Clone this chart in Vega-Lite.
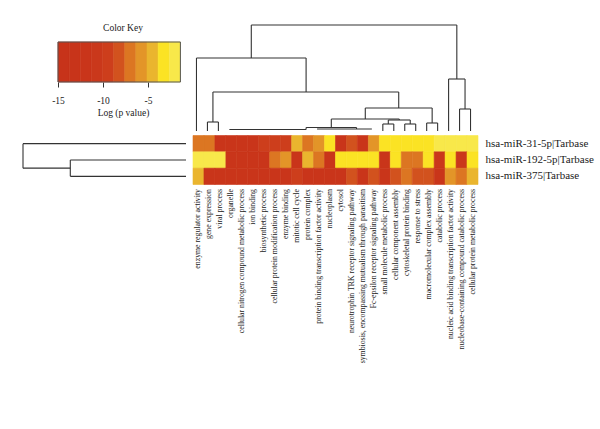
{
  "$schema": "https://vega.github.io/schema/vega-lite/v6.json",
  "padding": {"left": 22, "top": 22, "right": 5, "bottom": 5},
  "background": "white",
  "config": {
    "view": {"stroke": null},
    "font": "Liberation Serif",
    "axis": {"labelFont": "Liberation Serif", "titleFont": "Liberation Serif", "labelColor": "#1a1a1a", "titleColor": "#1a1a1a"},
    "title": {"font": "Liberation Serif"}
  },
  "datasets": {
    "keybins": [
      {"lo": -15, "hi": -13.76, "v": -14.4},
      {"lo": -13.76, "hi": -12.53, "v": -13.1},
      {"lo": -12.53, "hi": -11.29, "v": -11.9},
      {"lo": -11.29, "hi": -10.05, "v": -10.7},
      {"lo": -10.05, "hi": -8.82, "v": -9.4},
      {"lo": -8.82, "hi": -7.58, "v": -8.2},
      {"lo": -7.58, "hi": -6.35, "v": -7.0},
      {"lo": -6.35, "hi": -5.11, "v": -5.7},
      {"lo": -5.11, "hi": -3.87, "v": -4.5},
      {"lo": -3.87, "hi": -2.64, "v": -3.2},
      {"lo": -2.64, "hi": -1.4, "v": -2.0}
    ],
    "keyframe": [{"lo": -15, "hi": -1.4}],
    "coldendro": [
      {"x": 5.5, "x2": 24.25, "y": 106, "y2": 106},
      {"x": 5.5, "x2": 5.5, "y": 73, "y2": 106},
      {"x": 24.25, "x2": 24.25, "y": 52, "y2": 106},
      {"x": 0.5, "x2": 10.5, "y": 73, "y2": 73},
      {"x": 0.5, "x2": 0.5, "y": 0, "y2": 73},
      {"x": 10.5, "x2": 10.5, "y": 39, "y2": 73},
      {"x": 2.0, "x2": 18.95, "y": 39, "y2": 39},
      {"x": 2.0, "x2": 2.0, "y": 9, "y2": 39},
      {"x": 18.95, "x2": 18.95, "y": 23, "y2": 39},
      {"x": 1.5, "x2": 2.5, "y": 9, "y2": 9},
      {"x": 1.5, "x2": 1.5, "y": 0, "y2": 9},
      {"x": 2.5, "x2": 2.5, "y": 0, "y2": 9},
      {"x": 15.9, "x2": 22.0, "y": 23, "y2": 23},
      {"x": 15.9, "x2": 15.9, "y": 12, "y2": 23},
      {"x": 22.0, "x2": 22.0, "y": 8, "y2": 23},
      {"x": 21.5, "x2": 22.5, "y": 8, "y2": 8},
      {"x": 21.5, "x2": 21.5, "y": 0, "y2": 8},
      {"x": 22.5, "x2": 22.5, "y": 0, "y2": 8},
      {"x": 12.8, "x2": 19.0, "y": 12, "y2": 12},
      {"x": 12.8, "x2": 12.8, "y": 3.5, "y2": 12},
      {"x": 19.0, "x2": 19.0, "y": 11, "y2": 12},
      {"x": 18.0, "x2": 20.0, "y": 11, "y2": 11},
      {"x": 18.0, "x2": 18.0, "y": 7, "y2": 11},
      {"x": 20.0, "x2": 20.0, "y": 7, "y2": 11},
      {"x": 17.5, "x2": 18.5, "y": 7, "y2": 7},
      {"x": 17.5, "x2": 17.5, "y": 0, "y2": 7},
      {"x": 18.5, "x2": 18.5, "y": 0, "y2": 7},
      {"x": 19.5, "x2": 20.5, "y": 7, "y2": 7},
      {"x": 19.5, "x2": 19.5, "y": 0, "y2": 7},
      {"x": 20.5, "x2": 20.5, "y": 0, "y2": 7},
      {"x": 10.5, "x2": 15.1, "y": 3.5, "y2": 3.5},
      {"x": 10.5, "x2": 10.5, "y": 1.5, "y2": 3.5},
      {"x": 15.1, "x2": 15.1, "y": 2, "y2": 3.5},
      {"x": 3.5, "x2": 10.5, "y": 1.5, "y2": 1.5},
      {"x": 11.5, "x2": 16.5, "y": 2, "y2": 2},
      {"x": 23.5, "x2": 25.0, "y": 52, "y2": 52},
      {"x": 23.5, "x2": 23.5, "y": 0, "y2": 52},
      {"x": 25.0, "x2": 25.0, "y": 22, "y2": 52},
      {"x": 24.5, "x2": 25.5, "y": 22, "y2": 22},
      {"x": 24.5, "x2": 24.5, "y": 0, "y2": 22},
      {"x": 25.5, "x2": 25.5, "y": 0, "y2": 22}
    ],
    "rowdendro": [
      {"x": 0, "x2": 163, "y": 0.5, "y2": 0.5},
      {"x": 115.7, "x2": 163, "y": 2.0, "y2": 2.0},
      {"x": 163, "x2": 163, "y": 0.5, "y2": 2.0},
      {"x": 115.7, "x2": 115.7, "y": 1.5, "y2": 2.5},
      {"x": 0, "x2": 115.7, "y": 1.5, "y2": 1.5},
      {"x": 0, "x2": 115.7, "y": 2.5, "y2": 2.5}
    ],
    "heat": [
      {"term": "enzyme regulator activity", "mirna": "hsa-miR-31-5p|Tarbase", "logp": -7.0},
      {"term": "gene expression", "mirna": "hsa-miR-31-5p|Tarbase", "logp": -7.0},
      {"term": "viral process", "mirna": "hsa-miR-31-5p|Tarbase", "logp": -12},
      {"term": "organelle", "mirna": "hsa-miR-31-5p|Tarbase", "logp": -12},
      {"term": "cellular nitrogen compound metabolic process", "mirna": "hsa-miR-31-5p|Tarbase", "logp": -12},
      {"term": "ion binding", "mirna": "hsa-miR-31-5p|Tarbase", "logp": -12},
      {"term": "biosynthetic process", "mirna": "hsa-miR-31-5p|Tarbase", "logp": -9.4},
      {"term": "cellular protein modification process", "mirna": "hsa-miR-31-5p|Tarbase", "logp": -9.4},
      {"term": "enzyme binding", "mirna": "hsa-miR-31-5p|Tarbase", "logp": -9.4},
      {"term": "mitotic cell cycle", "mirna": "hsa-miR-31-5p|Tarbase", "logp": -4.5},
      {"term": "protein complex", "mirna": "hsa-miR-31-5p|Tarbase", "logp": -7.0},
      {"term": "protein binding transcription factor activity", "mirna": "hsa-miR-31-5p|Tarbase", "logp": -5.7},
      {"term": "nucleoplasm", "mirna": "hsa-miR-31-5p|Tarbase", "logp": -3.2},
      {"term": "cytosol", "mirna": "hsa-miR-31-5p|Tarbase", "logp": -12},
      {"term": "neurotrophin TRK receptor signaling pathway", "mirna": "hsa-miR-31-5p|Tarbase", "logp": -8.2},
      {"term": "symbiosis, encompassing mutualism through parasitism", "mirna": "hsa-miR-31-5p|Tarbase", "logp": -12},
      {"term": "Fc-epsilon receptor signaling pathway", "mirna": "hsa-miR-31-5p|Tarbase", "logp": -6.2},
      {"term": "small molecule metabolic process", "mirna": "hsa-miR-31-5p|Tarbase", "logp": -3.2},
      {"term": "cellular component assembly", "mirna": "hsa-miR-31-5p|Tarbase", "logp": -3.2},
      {"term": "cytoskeletal protein binding", "mirna": "hsa-miR-31-5p|Tarbase", "logp": -3.2},
      {"term": "response to stress", "mirna": "hsa-miR-31-5p|Tarbase", "logp": -3.2},
      {"term": "macromolecular complex assembly", "mirna": "hsa-miR-31-5p|Tarbase", "logp": -3.2},
      {"term": "catabolic process", "mirna": "hsa-miR-31-5p|Tarbase", "logp": -2.0},
      {"term": "nucleic acid binding transcription factor activity", "mirna": "hsa-miR-31-5p|Tarbase", "logp": -2.0},
      {"term": "nucleobase-containing compound catabolic process", "mirna": "hsa-miR-31-5p|Tarbase", "logp": -2.0},
      {"term": "cellular protein metabolic process", "mirna": "hsa-miR-31-5p|Tarbase", "logp": -2.0},
      {"term": "enzyme regulator activity", "mirna": "hsa-miR-192-5p|Tarbase", "logp": -2.5},
      {"term": "gene expression", "mirna": "hsa-miR-192-5p|Tarbase", "logp": -2.5},
      {"term": "viral process", "mirna": "hsa-miR-192-5p|Tarbase", "logp": -2.5},
      {"term": "organelle", "mirna": "hsa-miR-192-5p|Tarbase", "logp": -12},
      {"term": "cellular nitrogen compound metabolic process", "mirna": "hsa-miR-192-5p|Tarbase", "logp": -12},
      {"term": "ion binding", "mirna": "hsa-miR-192-5p|Tarbase", "logp": -12},
      {"term": "biosynthetic process", "mirna": "hsa-miR-192-5p|Tarbase", "logp": -12},
      {"term": "cellular protein modification process", "mirna": "hsa-miR-192-5p|Tarbase", "logp": -7.2},
      {"term": "enzyme binding", "mirna": "hsa-miR-192-5p|Tarbase", "logp": -5.7},
      {"term": "mitotic cell cycle", "mirna": "hsa-miR-192-5p|Tarbase", "logp": -12},
      {"term": "protein complex", "mirna": "hsa-miR-192-5p|Tarbase", "logp": -4.3},
      {"term": "protein binding transcription factor activity", "mirna": "hsa-miR-192-5p|Tarbase", "logp": -6.8},
      {"term": "nucleoplasm", "mirna": "hsa-miR-192-5p|Tarbase", "logp": -12},
      {"term": "cytosol", "mirna": "hsa-miR-192-5p|Tarbase", "logp": -3.3},
      {"term": "neurotrophin TRK receptor signaling pathway", "mirna": "hsa-miR-192-5p|Tarbase", "logp": -3.3},
      {"term": "symbiosis, encompassing mutualism through parasitism", "mirna": "hsa-miR-192-5p|Tarbase", "logp": -3.2},
      {"term": "Fc-epsilon receptor signaling pathway", "mirna": "hsa-miR-192-5p|Tarbase", "logp": -3.2},
      {"term": "small molecule metabolic process", "mirna": "hsa-miR-192-5p|Tarbase", "logp": -12},
      {"term": "cellular component assembly", "mirna": "hsa-miR-192-5p|Tarbase", "logp": -3.2},
      {"term": "cytoskeletal protein binding", "mirna": "hsa-miR-192-5p|Tarbase", "logp": -7.0},
      {"term": "response to stress", "mirna": "hsa-miR-192-5p|Tarbase", "logp": -7.0},
      {"term": "macromolecular complex assembly", "mirna": "hsa-miR-192-5p|Tarbase", "logp": -3.2},
      {"term": "catabolic process", "mirna": "hsa-miR-192-5p|Tarbase", "logp": -11},
      {"term": "nucleic acid binding transcription factor activity", "mirna": "hsa-miR-192-5p|Tarbase", "logp": -3.2},
      {"term": "nucleobase-containing compound catabolic process", "mirna": "hsa-miR-192-5p|Tarbase", "logp": -11},
      {"term": "cellular protein metabolic process", "mirna": "hsa-miR-192-5p|Tarbase", "logp": -3.2},
      {"term": "enzyme regulator activity", "mirna": "hsa-miR-375|Tarbase", "logp": -4.5},
      {"term": "gene expression", "mirna": "hsa-miR-375|Tarbase", "logp": -12},
      {"term": "viral process", "mirna": "hsa-miR-375|Tarbase", "logp": -12},
      {"term": "organelle", "mirna": "hsa-miR-375|Tarbase", "logp": -12},
      {"term": "cellular nitrogen compound metabolic process", "mirna": "hsa-miR-375|Tarbase", "logp": -12},
      {"term": "ion binding", "mirna": "hsa-miR-375|Tarbase", "logp": -12},
      {"term": "biosynthetic process", "mirna": "hsa-miR-375|Tarbase", "logp": -12},
      {"term": "cellular protein modification process", "mirna": "hsa-miR-375|Tarbase", "logp": -12},
      {"term": "enzyme binding", "mirna": "hsa-miR-375|Tarbase", "logp": -12},
      {"term": "mitotic cell cycle", "mirna": "hsa-miR-375|Tarbase", "logp": -9.4},
      {"term": "protein complex", "mirna": "hsa-miR-375|Tarbase", "logp": -12},
      {"term": "protein binding transcription factor activity", "mirna": "hsa-miR-375|Tarbase", "logp": -12},
      {"term": "nucleoplasm", "mirna": "hsa-miR-375|Tarbase", "logp": -12},
      {"term": "cytosol", "mirna": "hsa-miR-375|Tarbase", "logp": -12},
      {"term": "neurotrophin TRK receptor signaling pathway", "mirna": "hsa-miR-375|Tarbase", "logp": -8.2},
      {"term": "symbiosis, encompassing mutualism through parasitism", "mirna": "hsa-miR-375|Tarbase", "logp": -12},
      {"term": "Fc-epsilon receptor signaling pathway", "mirna": "hsa-miR-375|Tarbase", "logp": -8.2},
      {"term": "small molecule metabolic process", "mirna": "hsa-miR-375|Tarbase", "logp": -12},
      {"term": "cellular component assembly", "mirna": "hsa-miR-375|Tarbase", "logp": -8.2},
      {"term": "cytoskeletal protein binding", "mirna": "hsa-miR-375|Tarbase", "logp": -7.0},
      {"term": "response to stress", "mirna": "hsa-miR-375|Tarbase", "logp": -8.2},
      {"term": "macromolecular complex assembly", "mirna": "hsa-miR-375|Tarbase", "logp": -8.2},
      {"term": "catabolic process", "mirna": "hsa-miR-375|Tarbase", "logp": -12},
      {"term": "nucleic acid binding transcription factor activity", "mirna": "hsa-miR-375|Tarbase", "logp": -5.7},
      {"term": "nucleobase-containing compound catabolic process", "mirna": "hsa-miR-375|Tarbase", "logp": -7.0},
      {"term": "cellular protein metabolic process", "mirna": "hsa-miR-375|Tarbase", "logp": -4.5}
    ]
  },
  "spacing": 2.5,
  "vconcat": [
    {
      "spacing": 5,
      "hconcat": [
        {
          "width": 163,
          "height": 59,
          "title": {"text": "Color Key", "fontSize": 9.5, "fontWeight": "normal", "anchor": "middle", "frame": "group", "dx": 18.5, "offset": -9, "color": "#1a1a1a"},
          "encoding": {
            "x": {
              "field": "lo", "type": "quantitative", "title": "Log (p value)",
              "scale": {"domain": [-18.889, -0.778], "nice": false, "zero": false},
              "axis": {"values": [-15, -10, -5], "labelExpr": "'' + datum.value", "domain": false, "grid": false, "tickSize": 5, "tickColor": "#333", "labelFontSize": 9.5, "labelPadding": 8, "titleFontSize": 9.5, "titleFontWeight": "normal", "titlePadding": 3, "titleX": 100}
            },
            "x2": {"field": "hi"},
            "y": {"datum": 0, "type": "quantitative", "scale": {"domain": [0, 59], "nice": false}, "axis": null},
            "y2": {"datum": 40}
          },
          "layer": [
            {
              "data": {"name": "keybins"},
              "mark": {"type": "rect", "strokeWidth": 0.6},
              "encoding": {
                "color": {
                  "field": "v", "type": "quantitative", "legend": null,
                  "scale": {"type": "threshold", "domain": [-13.76, -12.53, -11.29, -10.05, -8.82, -7.58, -6.35, -5.11, -3.87, -2.64],
                    "range": ["#C7331A", "#C8341A", "#C9351A", "#CA381B", "#CD3E1C", "#D2521E", "#DC7622", "#E39528", "#EAB52E", "#FBE324", "#F8E84A"]}
                },
                "stroke": {
                  "field": "v", "type": "quantitative", "legend": null,
                  "scale": {"type": "threshold", "domain": [-13.76, -12.53, -11.29, -10.05, -8.82, -7.58, -6.35, -5.11, -3.87, -2.64],
                    "range": ["#C7331A", "#C8341A", "#C9351A", "#CA381B", "#CD3E1C", "#D2521E", "#DC7622", "#E39528", "#EAB52E", "#FBE324", "#F8E84A"]}
                }
              }
            },
            {
              "data": {"name": "keyframe"},
              "mark": {"type": "rect", "filled": false, "stroke": "#555", "strokeWidth": 1}
            }
          ]
        },
        {
          "width": 285,
          "height": 108,
          "data": {"name": "coldendro"},
          "mark": {"type": "rule", "color": "#333", "strokeWidth": 1.1},
          "encoding": {
            "x": {"field": "x", "type": "quantitative", "scale": {"domain": [0, 26], "nice": false, "zero": false}, "axis": null},
            "x2": {"field": "x2"},
            "y": {"field": "y", "type": "quantitative", "scale": {"domain": [0, 108], "nice": false}, "axis": null},
            "y2": {"field": "y2"}
          }
        }
      ]
    },
    {
      "spacing": 5,
      "hconcat": [
        {
          "width": 163,
          "height": 49,
          "data": {"name": "rowdendro"},
          "mark": {"type": "rule", "color": "#333", "strokeWidth": 1.1},
          "encoding": {
            "x": {"field": "x", "type": "quantitative", "scale": {"domain": [0, 163], "reverse": true, "nice": false, "zero": false}, "axis": null},
            "x2": {"field": "x2"},
            "y": {"field": "y", "type": "quantitative", "scale": {"domain": [0, 3], "reverse": true, "nice": false, "zero": false}, "axis": null},
            "y2": {"field": "y2"}
          }
        },
        {
          "width": 285,
          "height": 49,
          "data": {"name": "heat"},
          "mark": {"type": "rect", "strokeWidth": 0.6},
          "encoding": {
            "x": {
              "field": "term", "type": "nominal",
              "sort": ["enzyme regulator activity", "gene expression", "viral process", "organelle", "cellular nitrogen compound metabolic process", "ion binding", "biosynthetic process", "cellular protein modification process", "enzyme binding", "mitotic cell cycle", "protein complex", "protein binding transcription factor activity", "nucleoplasm", "cytosol", "neurotrophin TRK receptor signaling pathway", "symbiosis, encompassing mutualism through parasitism", "Fc-epsilon receptor signaling pathway", "small molecule metabolic process", "cellular component assembly", "cytoskeletal protein binding", "response to stress", "macromolecular complex assembly", "catabolic process", "nucleic acid binding transcription factor activity", "nucleobase-containing compound catabolic process", "cellular protein metabolic process"],
              "scale": {"paddingInner": 0, "paddingOuter": 0},
              "axis": {"orient": "bottom", "title": null, "labelAngle": -90, "labelFontSize": 7.8, "labelPadding": 4, "ticks": false, "domain": false, "labelOverlap": false, "labelLimit": 0}
            },
            "y": {
              "field": "mirna", "type": "nominal",
              "sort": ["hsa-miR-31-5p|Tarbase", "hsa-miR-192-5p|Tarbase", "hsa-miR-375|Tarbase"],
              "scale": {"paddingInner": 0, "paddingOuter": 0},
              "axis": {"orient": "right", "title": null, "labelFontSize": 11, "labelPadding": 7, "ticks": false, "domain": false, "labelLimit": 0}
            },
            "color": {
              "field": "logp", "type": "quantitative", "legend": null,
              "scale": {"type": "threshold", "domain": [-13.76, -12.53, -11.29, -10.05, -8.82, -7.58, -6.35, -5.11, -3.87, -2.64],
                "range": ["#C7331A", "#C8341A", "#C9351A", "#CA381B", "#CD3E1C", "#D2521E", "#DC7622", "#E39528", "#EAB52E", "#FBE324", "#F8E84A"]}
            },
            "stroke": {
              "field": "logp", "type": "quantitative", "legend": null,
              "scale": {"type": "threshold", "domain": [-13.76, -12.53, -11.29, -10.05, -8.82, -7.58, -6.35, -5.11, -3.87, -2.64],
                "range": ["#C7331A", "#C8341A", "#C9351A", "#CA381B", "#CD3E1C", "#D2521E", "#DC7622", "#E39528", "#EAB52E", "#FBE324", "#F8E84A"]}
            }
          }
        }
      ]
    }
  ]
}
